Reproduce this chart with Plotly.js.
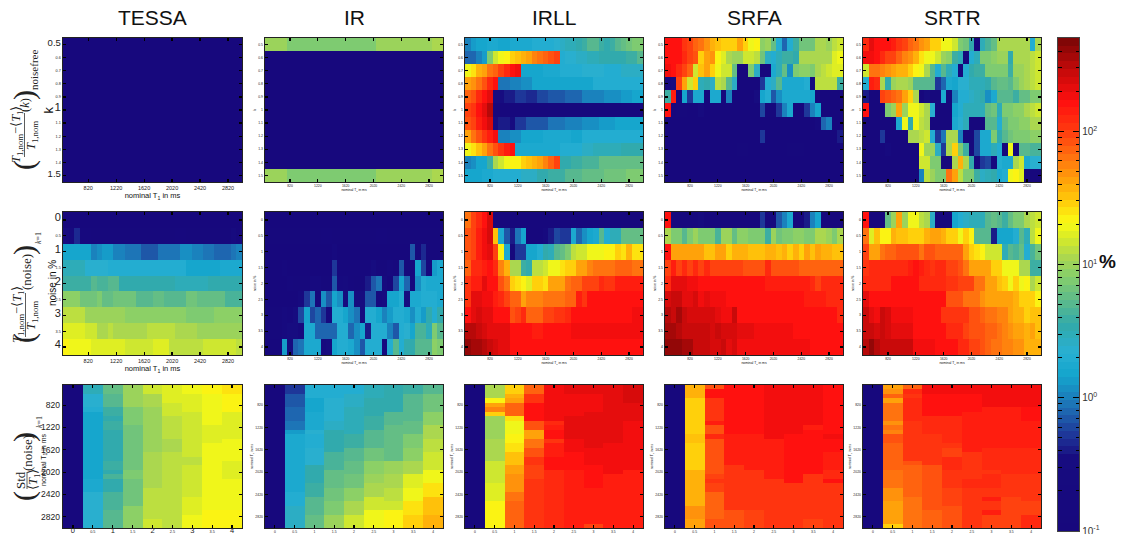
<!DOCTYPE html>
<html><head><meta charset="utf-8">
<script src="https://cdn.plot.ly/plotly-3.0.1.min.js"></script>
<style>html,body{margin:0;padding:0;background:#fff}#c{width:1122px;height:534px}</style>
</head><body><div id="c"></div>
<script>
// run-length helper: R(value,count,value,count,...)
const R=(...p)=>{const o=[];for(let i=0;i<p.length;i+=2)for(let j=0;j<p[i+1];j++)o.push(p[i]);return o;};

const methods=['TESSA','IR','IRLL','SRFA','SRTR'];
const kTicks=[0.5,0.6,0.7,0.8,0.9,1,1.1,1.2,1.3,1.4,1.5];
const noiseTicks=[0,0.5,1,1.5,2,2.5,3,3.5,4];
const t1Ticks=[820,1220,1620,2020,2420,2820];
const t1Values=[];for(let t=500;t<=2980;t+=80)t1Values.push(t);
const scaleMajor=[-1,0,1,2];
const scaleLabels=['10<sup>-1</sup>','10<sup>0</sup>','10<sup>1</sup>','10<sup>2</sup>'];
const scaleMinor=[-.699,-.523,-.398,-.301,-.222,-.155,-.097,-.046,.301,.477,.602,.699,.778,.845,.903,.954,1.301,1.477,1.602,1.699,1.778,1.845,1.903,1.954,2.301,2.477,2.602];

// ---- Row 1: error (%) vs k and nominal T1 (rows: k, columns: T1)
const tessaK=kTicks.map(()=>R(.1,32));
const irK=[R(10,4,8,16,10,10,11,2),R(.1,32),R(.1,32),R(.1,32),R(.1,32),R(.1,32),R(.1,32),R(.1,32),R(.1,32),R(.1,32),R(10,4,8,16,10,10,11,2)];
const irllK=[
R(1,1,1.3,1,1.6,2,1.7,2,1.6,2,1.7,2,1.8,2,1.9,1,2,3,2.2,1,2.5,1,3,2,3.5,1,4,1,5,2,4,1,3.5,1,4,1,5,1,6,1,7,1,8,2),
R(.8,2,1,1,1.4,1,8,1,14,1,19,1,23,1,28,1,32,1,36,1,45,1,55,1,66,1,75,1,85,1,100,1,2,1,2.2,2,2.6,2,3,2,3.3,3,3.6,2,4,2,5,1),
R(18,1,25,1,35,1,45,1,60,1,75,1,100,1,130,1,160,1,180,1,1.6,4,1.8,3,2,4,2.2,4,2.1,3,2.5,4),
R(40,1,50,1,65,1,80,1,130,1,160,1,.9,2,1,2,1.2,2,1.5,4,1.6,5,1.5,2,2,9),
R(70,1,85,1,120,1,170,1,220,1,.35,2,.42,2,.5,2,.45,2,.6,2,.7,3,.8,3,1,4,1.1,3,1.3,2,1.5,2),
R(90,1,110,1,160,1,200,1,300,1,.1,27),
R(80,1,100,1,140,1,180,1,240,1,.3,1,.4,2,.35,1,.5,2,.65,2,.7,2,.85,3,1,3,1.1,3,1.3,3,1.5,3,1.6,2),
R(45,1,60,1,80,1,110,1,150,1,190,1,1,2,1.2,2,1.5,4,1.7,5,1.5,2,2,11),
R(18,1,25,1,32,1,42,1,60,1,80,1,110,1,140,1,170,1,1.7,5,1.8,3,2.1,4,2.6,2,3,5,3.5,4),
R(1,1,1.2,1,1.5,2,4,1,11,1,14,1,18,1,21,2,28,1,32,1,38,1,45,1,55,1,70,1,90,1,3.3,2,3.8,2,4.5,3,5.5,4,6,4),
R(1.6,3,1.7,2,1.9,3,2.1,2,2.7,3,3.2,2,4,3,5,3,6,4,7,4,8,3)];
const srfaK=[
R(166,3,110,1,90,1,75,1,60,1,50,1,38,1,32,1,27,3,40,1,30,1,19,1,21,1,9,1,10,1,6,1,2,1,.8,1,2,1,4,1,7,2,6.5,1,11,1,12,1,10,1,13,1,14,1),
[170,170,170,130,90,80,30,42,50,22,16,11,10,10,14,14,13,7,2.5,2,3,4,4,3.2,11,12,11,12,11,12,16,18],
[180,170,130,100,70,15,32,40,28,20,14,14,6,.1,.1,8,2.5,.1,.1,1.8,2.8,6,1.1,8,9,9,8,12,13,14,16,16],
[.2,.3,100,45,14,30,3,3.5,2.5,13,11,5,2.5,.1,.1,.1,.1,.5,2,2.6,5,1.8,1.8,1.8,1.8,2,.2,13,13,13,13,4],
R(4,1,150,1,.1,1,1.6,1,.5,1,1.7,2,.1,1,1.7,2,.1,1,1,1,.1,4,.3,1,1.5,1,2,1,.7,1,1.2,1,1.7,5,1.5,1,.1,5),
R(170,1,.1,1,.12,2,.1,2,.25,1,.1,10,.6,1,.12,2,.5,1,1,1,1.8,1,.1,2,.5,1,1,1,1.6,1,.1,4),
R(.1,27,.2,1,.8,1,1,1,.1,2),
R(.1,17,.5,1,.1,13,.4,1),
R(.1,13,.13,2,.1,7,.13,3,.1,7),
R(.1,32),
R(.1,32)];
const srtrK=[
[130,200,170,170,160,140,110,90,75,60,50,40,30,27,20,18,14,8,7,3.5,.1,3,4.5,6,11,11,11,11,12,12,2,11],
[180,180,160,130,100,90,75,55,50,35,25,20,20,14,10,9,4,3,.1,2,3,8,8,9,10,10,3.5,11,11,11,13,14],
[14,60,60,55,50,45,35,35,28,22,18,11,5,2,5,3,2,.1,2,3.5,4,4,8,8,8,8,4,10,10,11,13,14],
[2,150,130,12,3.5,10,11,11,10,5,5,5,5,.5,.8,1.8,1.6,2.2,2.2,2.8,3,3,3.5,5,6,6,5,8,10,11,13,14],
[.4,.1,.1,100,85,70,60,42,30,12,.1,.3,.12,.12,1.8,.1,1,2,2,2.5,3,3.5,1.1,1.8,5,5,5,4,6,6,8,8],
[160,.1,.1,.1,8,10,40,10,18,20,14,12,2.2,.1,.1,.1,1.6,2,3,3,3,3,6,6.5,3,8,8,9,9,11,13,14],
[.1,.1,.1,.1,.1,.1,1.8,18,3.5,18,13,12,.1,.1,.1,.1,1.7,2.2,2.8,.1,.1,.1,5,5,2,6,8,8,9,9,11,12],
[.1,.1,.1,.5,.1,.1,.1,.1,12,12,13,14,2,.5,.9,12,12,1,.1,.1,.6,1.8,1.8,8,3.5,5,7,8,8,8,9,9],
[.1,.1,.1,.1,.2,.1,.1,.1,.1,.1,18,10,10,2.5,.5,12,28,8,4,.1,.6,1.8,1.8,3,2,.1,18,.1,5,5,4.5,4.5],
[.1,.1,.1,.1,.1,.1,.1,.1,.1,.1,14,14,8,8,.1,.1,12,38,12,3.5,.1,.5,.6,.15,2,1.7,1.7,12,14,1.7,2.2,2.2],
[.1,.1,.1,.1,.1,.1,.1,.1,.1,.1,1,13,10,8,8,66,40,13,8,8,4,2.5,3,3.5,1.8,2,20,22,17,.1,.1,.1]];

// ---- Row 2: error (%) vs noise and nominal T1 (rows: noise, columns: T1)
const tessaNoise=[
R(.1,32),
R(.3,1,.2,1,.45,1,.15,2,.12,15,.15,2,.12,8,.25,1,.12,1),
R(1.6,5,1,1,1.2,1,1.3,2,1,2,.9,3,.7,3,.85,2,.9,2,1.1,2,1,2,.9,2,.75,2,.8,1,.9,1,1,1),
R(2.8,4,2.2,4,2,8,1.9,6,1.6,6,1.8,4),
R(4,5,5,1,4.5,2,5,2,3.5,10,2.8,6,3.2,6),
R(9,3,7,3,8,1,6,2,6.5,2,7,2,5,3,6,2,5,4,6.5,2,5.5,2,6,3,4.5,3),
R(13,4,10,7,9,4,8.5,7,8,5,9,5),
R(17,4,14,2,12,1,11,1,13,1,11,6,13,5,11,2,12,2,10,8),
R(23,1,20,4,16,6,14,2,15,3,16,3,13,6,14,6,13,1)];
const irNoise=[
R(.1,32),
R(.12,10,.15,2,.12,8,.15,2,.12,10),
R(.1,12,.2,1,.1,13,.7,1,.12,1,.45,1,.12,3),
R(.1,3,.15,1,.1,8,.5,1,.15,6,.3,1,.12,2,.2,1,.15,1,.7,1,.12,2,1.6,1,.6,1,.15,1,1.3,1,1.7,1),
R(.1,4,.15,1,.12,3,.2,2,.12,2,.7,1,.2,1,.25,1,.15,1,.12,2,.4,1,.7,1,.9,1,.25,1,.1,1,.6,1,1.6,1,.8,1,.15,1,1.1,1,1.9,1,1.7,3),
R(.1,6,.2,1,.5,1,.9,1,.12,1,1.2,1,.7,1,1.6,1,1.1,1,.3,1,1.2,1,.3,2,.7,2,.2,1,.3,1,1.6,2,2,1,.3,1,1.7,2,2,3,1.7,1),
R(.12,3,.2,1,.15,1,.3,1,.6,1,1.6,1,.6,1,.8,1,.5,1,.2,1,1.9,2,1.5,1,1.1,1,.9,1,.3,1,2,2,1.6,1,1,1,1.4,1,2,2,1.8,1,1.2,1,2,1,1.3,1,3.5,1,2,1,3.5,1),
R(.12,3,.2,1,.3,2,.15,1,1.8,2,.8,4,2,2,.8,1,1.1,1,1.6,1,.4,1,2,3,1,1,.7,1,2,1,2.4,1,1.5,1,4.5,2,3,1,8,1,5,1),
R(.1,3,1.3,1,.3,1,.8,1,.9,1,1.8,3,.2,1,.3,1,1.6,1,1.9,1,2,1,1.7,1,1.1,1,.7,1,2,3,.2,1,2,1,5,1,1.9,1,3.5,2,5,3,9,1,8,1)];
const irllNoise=[
R(60,1,100,1,130,1,170,1,250,1,.1,27),
[85,100,150,180,230,32,1.7,.7,.4,.9,1.6,.1,.1,.1,.2,.4,.6,.5,.5,1.7,.8,1.1,1.6,1.7,5,2,3,3,6,6,6,6],
[80,100,140,190,200,90,21,1.7,.12,.5,.5,1.5,1.5,2,3.5,2.8,5,6,8,13,14,15,19,19,20,22,22,30,24,36,26,26],
[70,130,120,150,160,130,55,38,11,11,4,3.5,13,13,14,18,20,24,30,30,42,42,55,60,60,60,60,70,70,75,60,60],
[110,150,150,220,170,160,85,60,28,24,21,17,30,28,26,45,45,45,60,75,75,90,90,90,120,110,110,140,140,140,140,140],
R(110,1,200,2,180,1,190,1,150,1,120,1,95,1,75,2,42,1,55,3,65,4,70,1,75,1,150,1,110,1,160,10),
R(160,1,220,1,240,1,220,1,200,1,170,1,160,1,170,1,85,1,90,1,130,1,75,3,90,2,110,2,130,1,170,11,190,2),
R(330,1,300,1,270,1,230,1,220,1,200,3,170,4,150,2,170,5,180,11,190,2),
R(420,1,380,1,340,1,300,1,270,1,250,1,200,2,170,6,165,18)];
const srfaNoise=[
R(170,1,.15,5,.25,1,.1,10,.5,1,.15,2,.7,1,1,1,1.8,1,.1,2,.4,1,1,1,1.6,1,.1,4),
[11,8,8,5,8,10,8,8,8,4.5,10,10,6,9,9,8,8,8,4,10,7,8,8,8.5,9,8,8,12,12,10,8,11],
[170,42,42,42,42,42,42,32,32,40,40,28,38,38,38,32,32,32,35,35,32,38,30,38,30,40,32,42,35,38,32,32],
R(100,1,140,1,100,1,120,1,100,1,130,1,100,1,130,1,100,6,85,4,130,1,85,5,75,8),
R(130,1,200,3,190,2,170,12,140,8,120,1,100,1,120,4),
R(240,1,280,1,260,1,200,1,220,1,250,1,190,1,200,1,180,3,170,7,160,3,165,4,150,4,120,3),
R(300,1,260,1,350,1,280,1,230,4,250,1,210,1,190,2,260,1,170,6,160,9,165,3,120,1),
R(350,2,330,1,280,5,240,1,270,1,250,3,220,1,210,2,180,7,170,9),
R(400,3,380,1,370,1,280,3,240,2,260,1,220,1,250,1,190,3,180,4,175,6,160,6)];
const srtrNoise=[
[170,.1,.1,.1,6,10,40,10,19,19,13,12,2.5,.1,.1,.1,1.6,2,2.5,3,3,3,5,6,5,4,6,8,8,11,13,14],
[60,17,32,21,21,38,32,32,28,28,28,35,42,42,36,30,30,20,28,21,5,5,5,.4,1.5,1.6,1.6,2,5,3,13,20],
[100,45,45,65,70,70,85,85,85,80,66,85,85,70,70,70,70,70,42,30,26,21,14,14,14,3,5,4.5,6,2,4.5,7],
[110,130,120,130,130,120,120,120,140,170,140,130,110,130,130,100,90,80,60,45,45,45,40,30,30,20,20,20,11,11,4,4],
R(130,5,160,5,130,5,110,2,100,3,60,2,45,2,32,1,28,1,18,1,30,1,18,1,22,1,12,1,14,1),
R(200,1,170,2,160,12,85,3,65,3,50,1,45,2,42,1,40,2,35,1,30,2,30,1,21,1),
[260,200,190,280,250,190,190,190,190,170,170,170,170,170,110,110,110,110,110,85,85,75,65,60,55,55,45,38,36,30,32,32],
[280,260,230,260,230,200,200,200,200,170,170,170,170,170,170,130,130,130,90,85,85,85,75,70,60,55,50,42,42,36,42,32],
[300,400,330,260,260,260,260,260,260,190,190,190,190,170,170,170,170,120,120,90,90,85,75,65,65,55,55,50,50,36,36,38]];

// ---- Row 3: standard deviation (%) vs noise and nominal T1 (listed per noise column, top to bottom)
const tessaStdCols=[
R(.1,32),
R(3,2,2.3,3,1.9,1,1.6,15,1.8,3,2.2,8),
R(6,2,5,3,4,2,3.2,1,4,2,3.3,7,4,2,3.2,1,4.5,1,3.5,3,4.5,4,5,4),
R(10,5,8,4,7,4,6.5,6,8,2,7,6,9,5),
R(14,2,12,3,10,10,11,8,13,7,15,2),
R(17,4,15,3,13,5,12,3,12.5,2,13,7,13.5,8),
R(20,2,16,4,15,6,14,4,13,2,15,7,16,4,20,3),
R(23,2,18,7,17,4,19,3,18,10,19,2,21,4),
R(25,2,21,2,22,2,17,6,18,5,17,4,19,4,20,3,22,4)];
const irStdCols=[
R(.1,32),
R(.55,2,.65,3,.8,3,.95,2,1.4,1,1.7,7,1.8,6,1.9,3,2.5,5),
R(1.9,3,1.5,3,1.7,4,2.4,1,2,3,2.2,4,3.5,4,4,3,5,4,6,3),
R(1.9,3,2.2,5,2.6,2,3.2,3,3.5,2,4.5,4,6,4,7,3,8,3,10,3),
R(2,2,2.5,3,3,6,4,3,5,3,6,3,7,3,9,3,12,3,14,3),
R(3,3,3.5,4,4,3,5,4,7,3,9,3,10,2,12,3,15,3,18,4),
R(3.2,3,3.5,3,5,3,5.5,5,6,3,10,3,12,3,13,3,15,2,21,4),
R(3.8,2,5,6,6,3,8,3,9,3,12,3,16,3,20,3,25,3,30,3),
R(5,2,7,4,9,3,11,3,13,3,15,4,20,3,25,3,32,4,38,3)];
const irllStdCols=[
R(.1,32),
R(12,3,21,1,42,1,55,1,30,1,10,5,11,2,12,3,14,5,17,4,21,6),
R(27,2,35,1,45,1,75,3,26,1,19,3,21,2,26,2,32,3,42,2,50,4,62,2,72,6),
R(75,2,110,2,170,4,80,2,40,2,62,2,80,2,110,2,90,3,115,11),
R(175,8,130,1,150,1,170,2,110,1,140,3,170,3,130,13),
R(210,2,180,5,200,5,180,3,170,4,140,13),
R(210,2,195,4,205,8,180,4,170,3,160,2,140,8,100,1),
R(225,2,205,4,210,7,180,7,150,12),
R(240,4,205,4,195,4,180,7,150,13)];
const srfaStdCols=[
R(.1,32),
R(36,3,27,7,30,1,33,2,29,6,36,4,38,4,46,3,42,2),
R(85,1,160,2,110,3,115,2,150,1,80,2,120,1,78,8,90,1,105,1,90,2,70,6,85,2),
R(165,11,135,7,105,10,85,4),
R(170,11,150,8,110,9,100,4),
R(180,12,145,9,110,11),
R(180,11,155,11,115,9,105,1),
R(185,9,150,1,170,2,155,8,110,10,100,2),
R(170,9,160,2,195,1,170,3,150,4,125,2,160,1,115,10)];
const srtrStdCols=[
R(.1,32),
R(40,1,50,1,70,1,40,1,68,4,50,1,60,1,55,1,85,2,72,6,62,4,52,3,40,5,30,1),
R(70,1,120,1,105,1,125,5,105,9,85,1,72,7,62,7),
R(175,2,160,5,130,4,105,7,85,10,70,4),
R(180,2,165,5,130,6,110,1,95,2,120,3,110,4,90,4,85,5),
R(180,2,170,4,135,9,115,6,120,2,115,4,105,5),
R(185,2,175,3,145,9,125,5,110,1,125,3,115,2,145,1,115,2,145,1,100,3),
R(190,3,175,2,150,9,130,6,110,5,90,7),
R(195,3,175,2,160,3,145,6,125,6,110,6,95,3,130,3)];

const rowsK=[tessaK,irK,irllK,srfaK,srtrK];
const rowsNoise=[tessaNoise,irNoise,irllNoise,srfaNoise,srtrNoise];
const colsStd=[tessaStdCols,irStdCols,irllStdCols,srfaStdCols,srtrStdCols];

// ---- Colour map (64 MATLAB-style steps)
const anchors=[[0,[23,8,125]],[.148,[23,12,128]],[.19,[30,50,150]],[.25,[30,110,180]],[.316,[20,165,205]],[.363,[40,175,210]],[.418,[50,170,170]],[.465,[90,185,140]],[.513,[130,205,110]],[.554,[170,215,80]],[.594,[215,235,40]],[.627,[250,250,20]],[.667,[255,205,10]],[.708,[255,165,10]],[.763,[255,110,15]],[.81,[255,60,15]],[.87,[255,15,15]],[.931,[200,10,10]],[1,[120,5,5]]];
function cmap(f){for(let i=1;i<anchors.length;i++){if(f<=anchors[i][0]){const a=anchors[i-1],b=anchors[i],t=(f-a[0])/(b[0]-a[0]);
  return 'rgb('+a[1].map((v,j)=>Math.round(v+(b[1][j]-v)*t)).join(',')+')';}}return 'rgb(120,5,5)';}
const colorscale=[];for(let k=0;k<64;k++){const c=cmap((k+.5)/64);colorscale.push([k/64,c],[(k+1)/64,c]);}
const zMin=-1,zMax=2.7;

// ---- Geometry (pixels -> paper)
const W=1122,H=534;
const colX=[[63,242],[265,443],[465,643],[665,843],[863,1041]];
const rowY=[[38,182],[212,355],[385,528]];
const px=x=>x/W, py=y=>1-y/H;
const sans='"Liberation Sans", Arial, sans-serif', serif='"Liberation Serif", serif';
const big=(s,n)=>'<span style="font-size:'+n+'px">'+s+'</span>';

const traces=[], layout={
  width:W,height:H,margin:{l:0,r:0,t:0,b:0},paper_bgcolor:'#fff',plot_bgcolor:'#fff',showlegend:false,
  font:{family:sans,color:'#222'},
  coloraxis:{colorscale:colorscale,cmin:zMin,cmax:zMax,showscale:false},
  annotations:[],shapes:[]};

function ann(text,x,y,size,opt){layout.annotations.push(Object.assign({text:text,x:px(x),y:py(y),xref:'paper',yref:'paper',xanchor:'center',yanchor:'middle',showarrow:false,font:{family:serif,size:size,color:'#222'},textangle:-90},opt||{}));}

let n=0;
const base={showline:true,linecolor:'#222',linewidth:1.4,mirror:'ticks',ticks:'inside',ticklen:3,tickwidth:1.2,tickcolor:'#000',showgrid:false,zeroline:false,tickmode:'array',tickangle:0};
function panel(r,c,x,y,z,xa,ya){
  n++;const id=n===1?'':n;
  traces.push({type:'heatmap',x:x,y:y,z:z.map(row=>row.map(v=>Math.log10(v))),coloraxis:'coloraxis',xaxis:'x'+id,yaxis:'y'+id,hovertemplate:'%{z:.2f}<extra></extra>'});
  layout['xaxis'+id]=Object.assign({},base,{domain:[px(colX[c][0]),px(colX[c][1])],anchor:'y'+id},xa);
  layout['yaxis'+id]=Object.assign({},base,{domain:[py(rowY[r][1]),py(rowY[r][0])],anchor:'x'+id},ya);
}
const tiny={family:sans,size:3.4,color:'#222'};
const tinyTitle=t=>({text:t,standoff:2,font:{family:sans,size:3.4,color:'#222'}});
for(let c=0;c<5;c++){
  const first=c===0;
  const xT=()=>({range:[460,3020],tickvals:t1Ticks,ticktext:t1Ticks.map(String),
    tickfont:first?{family:sans,size:5.5,color:'#222'}:tiny,
    title:{text:'nominal T<sub>1</sub> in ms',standoff:1,font:{family:sans,size:first?7.5:3.4,color:'#111'}}});
  const yFont=first?{family:sans,size:3.8,color:'#222'}:tiny;
  panel(0,c,t1Values,kTicks,rowsK[c],xT(),{range:[1.55,.45],tickvals:kTicks,
    ticktext:kTicks.map(v=>first?(v===1?big(v,11.5):(v===.5||v===1.5)?big(v,9.5):String(v)):String(v)),tickfont:yFont,
    title:first?undefined:tinyTitle('k')});
  panel(1,c,t1Values,noiseTicks,rowsNoise[c],xT(),{range:[4.25,-.25],tickvals:noiseTicks,
    ticktext:noiseTicks.map(v=>first&&Number.isInteger(v)?big(v,11):String(v)),tickfont:yFont,
    title:first?undefined:tinyTitle('noise in %')});
  const zStd=t1Values.map((_,i)=>colsStd[c].map(col=>col[i]));
  panel(2,c,noiseTicks,t1Values,zStd,
    {range:[-.25,4.25],tickvals:noiseTicks,ticktext:noiseTicks.map(v=>first&&Number.isInteger(v)?big(v,7.5):String(v)),tickfont:first?{family:sans,size:3.8,color:'#222'}:tiny,ticklabelstandoff:first?-1:0},
    {range:[3020,460],tickvals:t1Ticks,ticktext:t1Ticks.map(String),tickfont:first?{family:sans,size:8.5,color:'#222'}:tiny,
     title:first?undefined:tinyTitle('nominal T<sub>1</sub> in ms')});
}

// colour scale strip: the same colour axis, one cell per colour step
const stripLevels=colorscale.filter((_,i)=>i%2===0).map((_,k)=>zMin+(zMax-zMin)*(k+.5)/64);
traces.push({type:'heatmap',x:[0],y:stripLevels,z:stripLevels.map(v=>[v]),coloraxis:'coloraxis',xaxis:'x16',yaxis:'y16',hoverinfo:'skip'});
layout.xaxis16={domain:[px(1058),px(1079)],anchor:'y16',range:[-.5,.5],showticklabels:false,ticks:'',showgrid:false,zeroline:false,showline:true,mirror:true,linecolor:'#444',linewidth:1.2};
layout.yaxis16={domain:[py(531),py(38)],anchor:'x16',range:[zMin,zMax],side:'right',showgrid:false,zeroline:false,showline:true,mirror:'ticks',linecolor:'#444',linewidth:1.2,
  ticks:'inside',ticklen:6,tickwidth:1.2,tickcolor:'#000',tickmode:'array',tickvals:scaleMajor,ticktext:scaleLabels,tickfont:{family:sans,size:10,color:'#333'},ticklabelstandoff:0,ticklabeloverflow:'allow',
  minor:{tickmode:'array',tickvals:scaleMinor,ticks:'inside',ticklen:3.5,tickwidth:1,tickcolor:'#000',showgrid:false}};

// column titles and the % label
methods.forEach((m,c)=>ann(m,(colX[c][0]+colX[c][1])/2,18,21,{textangle:0,font:{family:sans,size:21,color:'#111'}}));
ann('%',1107,261,19,{textangle:0,font:{family:sans,size:19,color:'#111',weight:700}});

// first-column y-axis titles (they sit beside the tick numbers)
ann('k',47.5,110,13,{font:{family:sans,size:13,color:'#111'}});
ann('noise in %',52,283,10,{font:{family:sans,size:10,color:'#111'}});
ann('nominal T<sub>1</sub> in ms',44,460,7,{font:{family:sans,size:7,color:'#111'}});

// row formulas
function bar(x,y0,y1){layout.shapes.push({type:'line',xref:'paper',yref:'paper',x0:px(x),x1:px(x),y0:py(y0),y1:py(y1),line:{color:'#333',width:.8}});}
const T1='<i>T</i><sub>1</sub>', Tn='<i>T</i><sub>1,nom</sub>';
const fs=12.5;
ann('(',24,165,30);ann(Tn+'−⟨'+T1+'⟩',17,135,fs);bar(24.5,113,157);ann(Tn,32,135,fs);ann('(<i>k</i>)',25,105,fs);ann(')',24,95,30);ann('noisefree',34,70,11);
ann('(',24,338,30);ann(Tn+'−⟨'+T1+'⟩',18,315,fs);bar(25.5,293,337);ann(Tn,32,315,fs);ann('(noise)',26,272,13);ann(')',24,250,30);ann('<i>k</i>=1',38,238,8);
ann('(',24,496,30);ann('Std',20,480,13);bar(27,472,489);ann('⟨'+T1+'⟩',34,480,12.5);ann('(noise)',27,453,13);ann(')',24,437,30);ann('<i>k</i>=1',39,422,8);

Plotly.newPlot('c',traces,layout,{displayModeBar:false,staticPlot:true});
</script></body></html>
